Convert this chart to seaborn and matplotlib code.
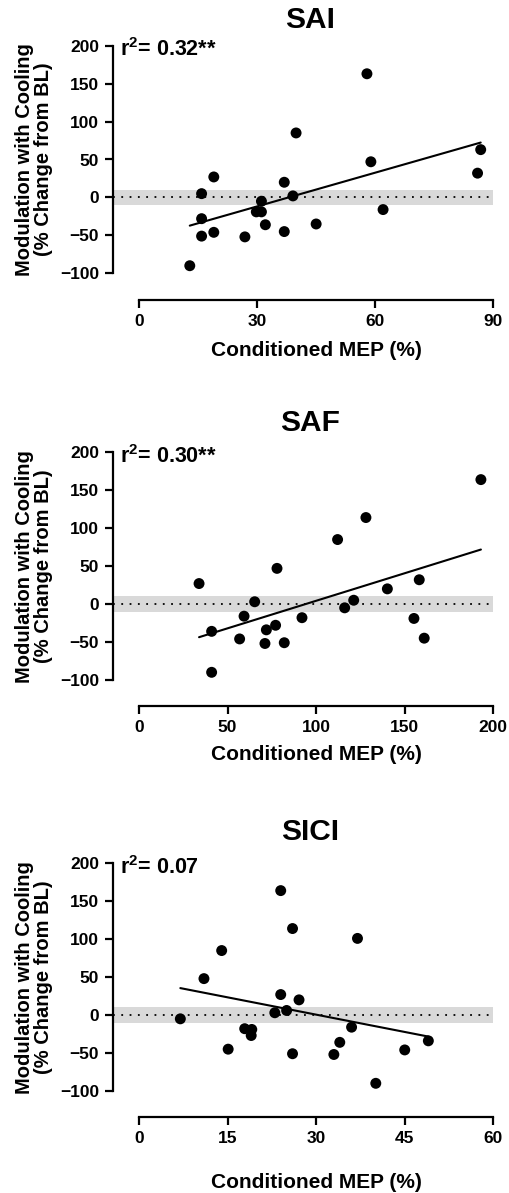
import numpy as np
import matplotlib
matplotlib.use("Agg")
import matplotlib.pyplot as plt
import seaborn as sns

# ---------------- data ----------------
titles = ["SAI", "SAF", "SICI"]
r2_labels = ["r$^{2}$= 0.32**", "r$^{2}$= 0.30**", "r$^{2}$= 0.07"]

sai_x = [12.9, 15.9, 15.9, 15.9, 19.0, 19.0, 26.9, 29.8, 31.1, 31.1, 32.1,
         36.9, 36.9, 39.1, 39.9, 45.0, 57.9, 58.9, 62.0, 86.0, 86.8]
sai_y = [-90, 5, -28, -51, 27, -46, -52, -19, -5, -19, -36,
         20, -45, 2, 85, -35, 163, 47, -16, 32, 63]

saf_x = [33.9, 41.0, 41.0, 56.8, 59.3, 65.3, 71.1, 71.9, 77.1, 77.9, 82.0,
         92.0, 112.1, 116.1, 121.2, 128.1, 140.2, 155.2, 158.2, 161.0, 193.0]
saf_y = [27, -36, -90, -46, -16, 3, -52, -34, -28, 47, -51,
         -18, 85, -5, 5, 114, 20, -19, 32, -45, 164]

sici_x = [7.0, 11.0, 14.0, 15.1, 17.9, 19.1, 19.0, 23.0, 24.0, 24.0, 25.0,
          26.0, 26.0, 27.1, 33.0, 34.0, 36.0, 37.0, 40.1, 45.0, 49.0]
sici_y = [-5, 48, 85, -45, -18, -19, -27, 3, 164, 27, 6,
          114, -51, 20, -52, -36, -16, 101, -90, -46, -34]

xs = [sai_x, saf_x, sici_x]
ys = [sai_y, saf_y, sici_y]
xmaxes = [90, 200, 60]
xtick_sets = [[0, 30, 60, 90], [0, 50, 100, 150, 200], [0, 15, 30, 45, 60]]
yticks = [-100, -50, 0, 50, 100, 150, 200]

# ---------------- style ----------------
sns.set_style("ticks")
plt.rcParams["font.family"] = ["Liberation Sans", "DejaVu Sans"]
plt.rcParams["font.weight"] = "bold"
plt.rcParams["axes.labelweight"] = "bold"
plt.rcParams["mathtext.fontset"] = "custom"
plt.rcParams["mathtext.rm"] = "Liberation Sans:bold"
plt.rcParams["mathtext.bf"] = "Liberation Sans:bold"
plt.rcParams["mathtext.default"] = "bf"
for k in ("text.color", "axes.labelcolor", "xtick.color", "ytick.color", "axes.edgecolor"):
    plt.rcParams[k] = "black"

W, H = 509, 1193
fig = plt.figure(figsize=(W / 100, H / 100), dpi=100)

# panel geometry in pixels (top of y-range, x spine row)
tops = [45.7, 452.3, 863.3]
spines = [300.0, 706.0, 1116.7]
title_off = [26.0, 29.3, 31.0]   # px above top of y-range
left_px, right_px, x0_px = 113.0, 493.3, 139.0
yrange_px = 227.6
xlabel_pads = [9, 7.5, 20]

for i in range(3):
    top, sp = tops[i], spines[i]
    hpx = sp - top
    ax = fig.add_axes([left_px / W, 1 - sp / H, (right_px - left_px) / W, hpx / H])
    xmax = xmaxes[i]
    xmin = -(x0_px - left_px) / (right_px - x0_px) * xmax
    ybot = -100 - (sp - (top + yrange_px)) / yrange_px * 300

    ax.axhspan(-10, 10, color="#d9d9d9", lw=0, zorder=0)
    ax.axhline(0, color="black", lw=1.3, ls=(0, (1, 3.6)), zorder=1)

    sns.regplot(x=np.array(xs[i]), y=np.array(ys[i]), ax=ax, ci=None, truncate=True,
                scatter_kws=dict(s=62, color="black", edgecolor="none", alpha=1, zorder=3),
                line_kws=dict(color="black", lw=1.5, zorder=2))

    ax.set_xlim(xmin, xmax)
    ax.set_ylim(ybot, 200)
    ax.set_xticks(xtick_sets[i])
    ax.set_yticks(yticks)
    ax.spines["top"].set_visible(False)
    ax.spines["right"].set_visible(False)
    ax.spines["left"].set_bounds(-100, 200)
    ax.spines["bottom"].set_bounds(0, xmax)
    for s in ("left", "bottom"):
        ax.spines[s].set_linewidth(1.6)
        ax.spines[s].set_color("black")
    ax.tick_params(axis="both", direction="out", length=6, width=1.6, color="black",
                   labelcolor="black", labelsize=12.5, pad=4)
    for lab in ax.get_xticklabels() + ax.get_yticklabels():
        lab.set_fontweight("bold")

    tx = ((x0_px + right_px) / 2 - left_px) / (right_px - left_px)
    ax.set_xlabel("Conditioned MEP (%)", fontsize=15, fontweight="bold",
                  labelpad=xlabel_pads[i])
    ax.xaxis.label.set_x(tx)
    ax.set_ylabel("Modulation with Cooling\n(% Change from BL)", fontsize=14.5,
                  fontweight="bold", labelpad=5, linespacing=1.0)
    ax.yaxis.label.set_y((sp - (top + yrange_px / 2)) / hpx)

    ttx = (310 - left_px) / (right_px - left_px)
    ty = 1 + title_off[i] / hpx
    ax.text(ttx, ty, titles[i], transform=ax.transAxes, ha="center", va="center",
            fontsize=21.5, fontweight="bold")

    rx = (120 - left_px) / (right_px - left_px)
    ry = 1 - 4.0 / hpx
    ax.text(rx, ry, r2_labels[i], transform=ax.transAxes, ha="left", va="center",
            fontsize=15.5, fontweight="bold")

fig.savefig("out.png", dpi=100)
